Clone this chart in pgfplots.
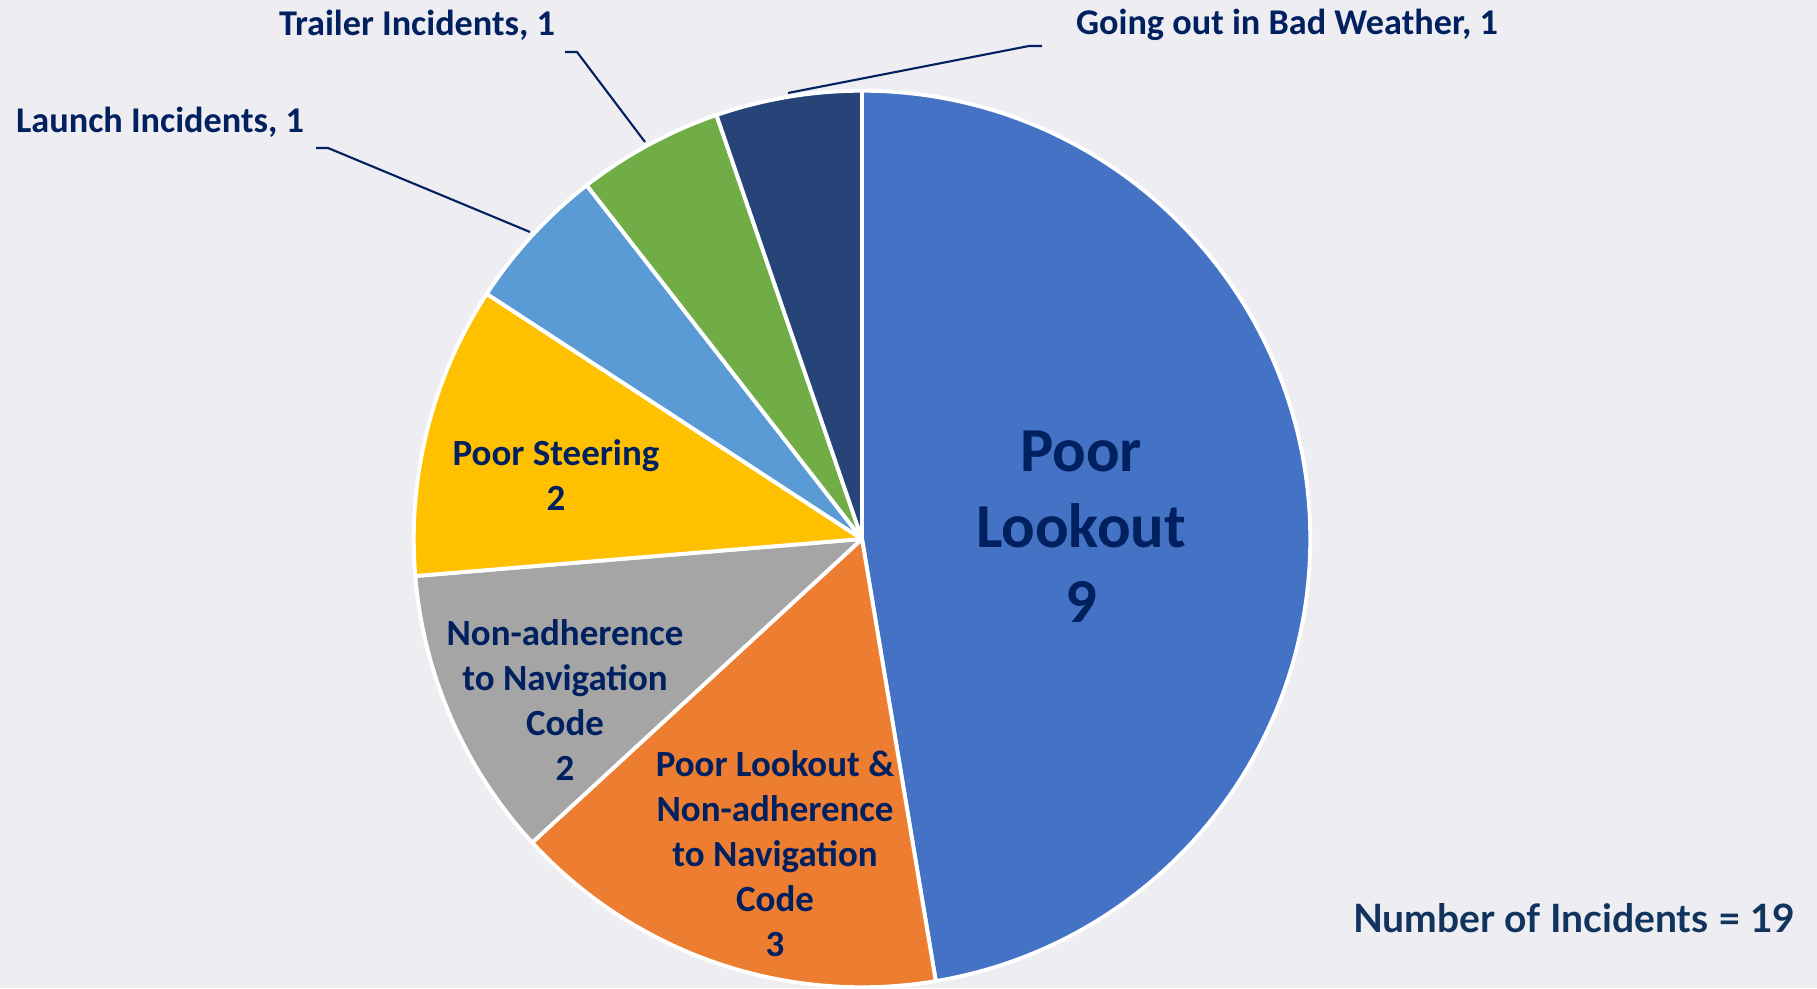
\documentclass[border=0pt]{standalone}
\usepackage{fontspec}
\setmainfont{Carlito}
\newfontfamily\latofont{Lato}
\usepackage{pgfplots}
\usepackage{pgfplotstable}
\pgfplotsset{compat=1.18}
\definecolor{bg}{RGB}{238,237,242}
\definecolor{txt}{RGB}{0,32,96}
\definecolor{txtb}{RGB}{16,52,94}
\definecolor{cA}{HTML}{4472C4}
\definecolor{cB}{HTML}{ED7D31}
\definecolor{cC}{HTML}{A5A5A5}
\definecolor{cD}{HTML}{FFC000}
\definecolor{cE}{HTML}{5B9BD5}
\definecolor{cF}{HTML}{70AD47}
\definecolor{cG}{HTML}{264478}

\pgfplotstableread{
name value
PoorLookout 9
PoorLookoutNonAdherence 3
NonAdherence 2
PoorSteering 2
Launch 1
Trailer 1
BadWeather 1
}\pietable

\newcommand\getv[2]{\pgfplotstablegetelem{#1}{value}\of\pietable\xdef#2{\pgfplotsretval}}

\begin{document}
\begin{tikzpicture}
\getv{0}\vA \getv{1}\vB \getv{2}\vC \getv{3}\vD \getv{4}\vE \getv{5}\vF \getv{6}\vG
\pgfmathsetmacro\tot{\vA+\vB+\vC+\vD+\vE+\vF+\vG}
\pgfmathsetmacro\aA{90}
\pgfmathsetmacro\aB{\aA-360*\vA/\tot}
\pgfmathsetmacro\aC{\aB-360*\vB/\tot}
\pgfmathsetmacro\aD{\aC-360*\vC/\tot}
\pgfmathsetmacro\aE{\aD-360*\vD/\tot}
\pgfmathsetmacro\aF{\aE-360*\vE/\tot}
\pgfmathsetmacro\aG{\aF-360*\vF/\tot}
\pgfmathsetmacro\aH{\aG-360*\vG/\tot}
\def\R{4.48cm}
\begin{axis}[x=0.01cm, y=0.01cm, xmin=0, xmax=1817, ymin=0, ymax=988,
  hide axis, clip=false]
\fill[bg] (axis cs:0,0) rectangle (axis cs:1817,988);
\coordinate (bl) at (axis cs:0,0);
\coordinate (tr) at (axis cs:1817,988);
\filldraw[fill=cA, draw=white, line width=1.1pt, line join=round] (axis cs:862,449) -- ([shift={(\aA:\R)}]axis cs:862,449) arc[start angle=\aA, end angle=\aB, radius=\R] -- cycle;
\filldraw[fill=cB, draw=white, line width=1.1pt, line join=round] (axis cs:862,449) -- ([shift={(\aB:\R)}]axis cs:862,449) arc[start angle=\aB, end angle=\aC, radius=\R] -- cycle;
\filldraw[fill=cC, draw=white, line width=1.1pt, line join=round] (axis cs:862,449) -- ([shift={(\aC:\R)}]axis cs:862,449) arc[start angle=\aC, end angle=\aD, radius=\R] -- cycle;
\filldraw[fill=cD, draw=white, line width=1.1pt, line join=round] (axis cs:862,449) -- ([shift={(\aD:\R)}]axis cs:862,449) arc[start angle=\aD, end angle=\aE, radius=\R] -- cycle;
\filldraw[fill=cE, draw=white, line width=1.1pt, line join=round] (axis cs:862,449) -- ([shift={(\aE:\R)}]axis cs:862,449) arc[start angle=\aE, end angle=\aF, radius=\R] -- cycle;
\filldraw[fill=cF, draw=white, line width=1.1pt, line join=round] (axis cs:862,449) -- ([shift={(\aF:\R)}]axis cs:862,449) arc[start angle=\aF, end angle=\aG, radius=\R] -- cycle;
\filldraw[fill=cG, draw=white, line width=1.1pt, line join=round] (axis cs:862,449) -- ([shift={(\aG:\R)}]axis cs:862,449) arc[start angle=\aG, end angle=\aH, radius=\R] -- cycle;
% inner labels
\node[txt, font=\fontsize{17.8}{21.5}\selectfont\bfseries, align=center] at (axis cs:1081,461) {Poor\\Lookout\\9};
\node[txt, font=\fontsize{10.5}{12.8}\selectfont\bfseries, align=center] at (axis cs:556,513) {Poor Steering\\2};
\node[txt, font=\fontsize{10.5}{12.8}\selectfont\bfseries, align=center] at (axis cs:565,288) {Non-adherence\\to Navigation\\Code\\2};
\node[txt, font=\fontsize{10.5}{12.8}\selectfont\bfseries, align=center] at (axis cs:775,134) {Poor Lookout \&\\Non-adherence\\to Navigation\\Code\\3};
% outside labels
\node[txt, font=\fontsize{10.3}{12.5}\selectfont\bfseries] at (axis cs:417,963) {Trailer Incidents, 1};
\node[txt, font=\fontsize{10.3}{12.5}\selectfont\bfseries] at (axis cs:160,866) {Launch Incidents, 1};
\node[txt, font=\fontsize{10.3}{12.5}\selectfont\bfseries] at (axis cs:1287,963) {Going out in Bad Weather, 1};
% leader lines
\draw[txt, line width=0.6pt] (axis cs:788,895) -- (axis cs:1029,942) -- (axis cs:1042,942);
\draw[txt, line width=0.6pt] (axis cs:645,846) -- (axis cs:577,936) -- (axis cs:565,936);
\draw[txt, line width=0.6pt] (axis cs:530,756) -- (axis cs:328,840) -- (axis cs:316,840);
% total
\node[txtb, anchor=east, inner sep=0pt, font=\latofont\fontsize{11.1}{13.5}\selectfont\bfseries] at (axis cs:1796,70) {Number of Incidents = 19};
\end{axis}
\pgfresetboundingbox
\path[use as bounding box] (bl) rectangle (tr);
\end{tikzpicture}
\end{document}
